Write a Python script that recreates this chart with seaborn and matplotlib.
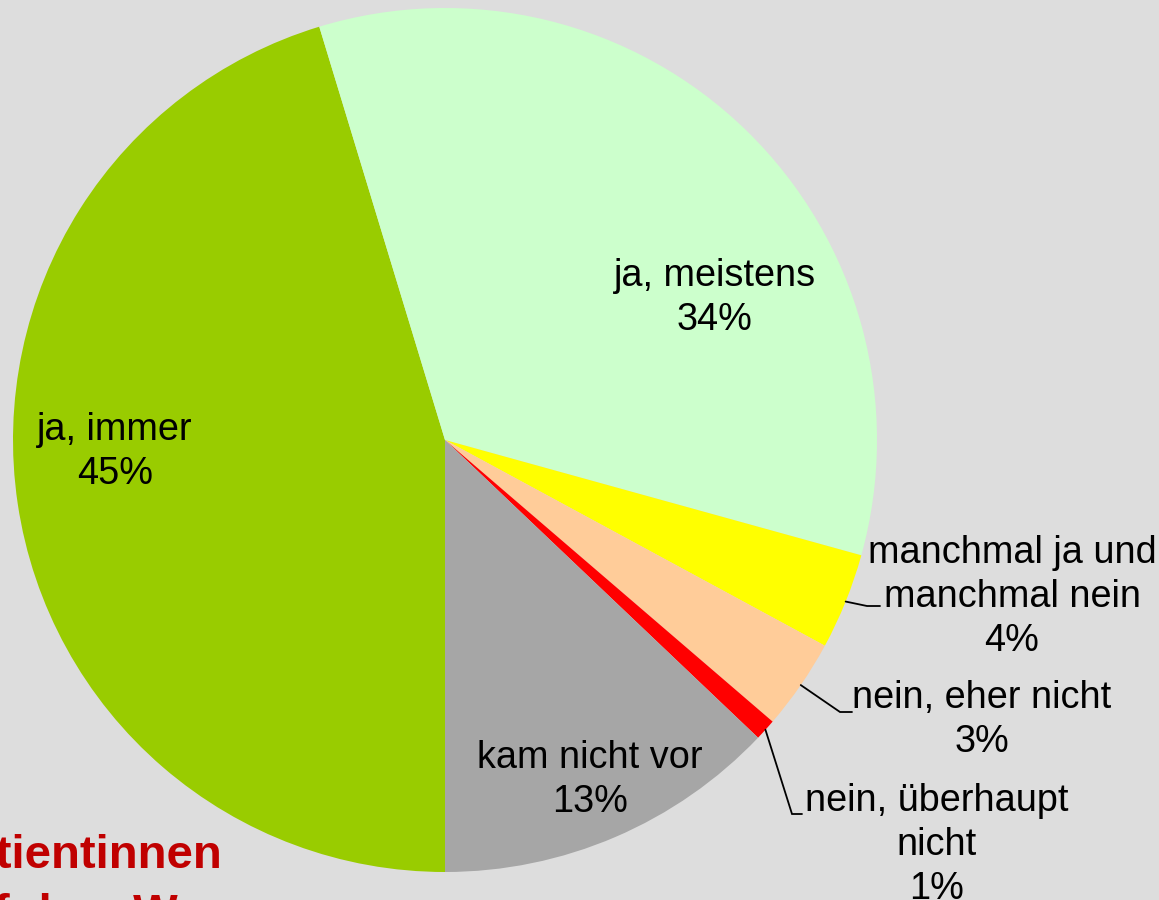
import numpy as np
import seaborn as sns
import matplotlib.pyplot as plt

# answer categories, clockwise from 6 o'clock
categories = ['ja, immer', 'ja, meistens', 'manchmal ja und\nmanchmal nein',
              'nein, eher nicht', 'nein, überhaupt\nnicht', 'kam nicht vor']
shares = [45.3, 34.0, 3.6, 3.4, 0.8, 12.9]
colors = ['#99CC00', '#CCFFCC', '#FFFF00', '#FFCC99', '#FF0000', '#A6A6A6']

sns.set_theme(style='white')
plt.rcParams['font.family'] = ['Liberation Sans', 'DejaVu Sans']

bg = '#DDDDDD'
fig = plt.figure(figsize=(11.59, 9), dpi=100, facecolor=bg)
ax = fig.add_axes([0, 0, 1, 1])
ax.set_facecolor(bg)

wedges, _ = ax.pie(shares, colors=colors, startangle=270, counterclock=False,
                   radius=1.0, wedgeprops=dict(linewidth=0))

# pixel -> data helpers (center 445,440 ; radius 432 px)
cx, cy, R = 445, 440, 432
ax.set_xlim(-cx / R, (1159 - cx) / R)
ax.set_ylim(-(900 - cy) / R, cy / R)
ax.set_aspect('auto')
ax.axis('off')


def px(x, y):
    return (x - cx) / R, (cy - y) / R


fs = 27.3
ls = 1.27
labels = [f'{c}\n{v:.0f}%' for c, v in zip(categories, shares)]

# labels inside the pie
inside = {0: (115, 452), 1: (715, 298), 5: (590, 780)}
for i, (x, y) in inside.items():
    ax.text(*px(x, y), labels[i], ha='center', va='center', fontsize=fs,
            linespacing=ls, color='black')

# outside labels with leader lines: (label centre, elbow, line end)
outside = {
    2: ((1012, 597), (867, 606), (880, 606)),
    3: ((982, 720), (840, 712), (852, 712)),
    4: ((937, 845), (792, 814), (802, 814)),
}
for i, (lab, elbow, end) in outside.items():
    w = wedges[i]
    th = np.deg2rad((w.theta1 + w.theta2) / 2)
    sx, sy = np.cos(th), np.sin(th)
    ex, ey = px(*elbow)
    fx, fy = px(*end)
    ax.plot([sx, ex, fx], [sy, ey, fy], color='black', lw=1.3,
            solid_joinstyle='miter')
    ax.text(*px(*lab), labels[i], ha='center', va='center', fontsize=fs,
            linespacing=ls, color='black')

# title, partly outside the canvas (as in the original slide)
fig.text(-61 / 1159, 1 - 868 / 900, 'Patientinnen', ha='left', va='baseline',
         fontsize=34, fontweight='bold', color='#C00000')
fig.text(-61 / 1159, 1 - 927 / 900, 'auf dem Weg', ha='left', va='baseline',
         fontsize=34, fontweight='bold', color='#C00000')

fig.savefig('out.png', dpi=100, facecolor=bg)
